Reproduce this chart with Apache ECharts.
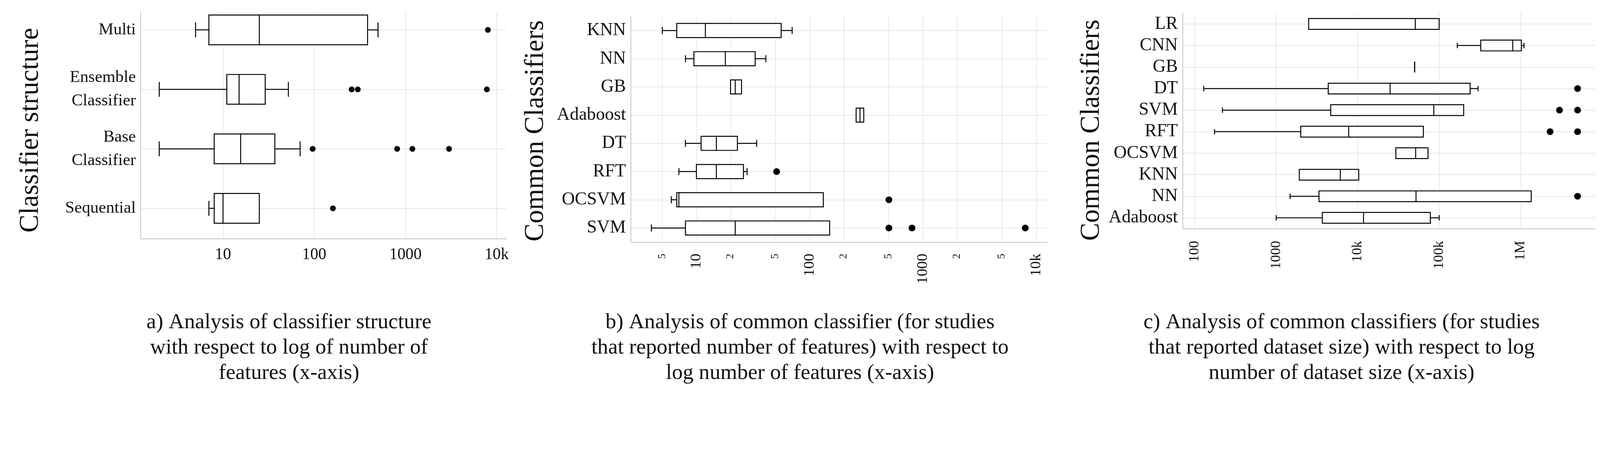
<!DOCTYPE html>
<html>
<head>
<meta charset="utf-8">
<script src="https://cdn.jsdelivr.net/npm/echarts@6.0.0/dist/echarts.min.js"></script>
<style>
  html, body { margin: 0; padding: 0; background: #fff; overflow: hidden; }
</style>
</head>
<body>
<div id="chart"></div>
<script>
const SERIF = '"Liberation Serif", "Times New Roman", serif';

// box stats are [min, q1, median, q3, max]

// a) classifier structure vs number of features
const structNames = ['Multi', 'Ensemble\nClassifier', 'Base\nClassifier', 'Sequential'];
const structBoxes = [
  [5, 7, 25, 384, 500],
  [2, 11, 15, 29, 52],
  [2, 8, 15.6, 37, 70],
  [7, 8, 10, 25, 25],
];
const structOutliers = [[8000], [257, 300, 7800], [96, 810, 1190, 3000], [160]];
const structTicks = [10, 100, 1000, 10000];

// b) common classifiers vs number of features
const featNames = ['KNN', 'NN', 'GB', 'Adaboost', 'DT', 'RFT', 'OCSVM', 'SVM'];
const featBoxes = [
  [5, 6.7, 12, 56, 70],
  [8, 9.5, 18, 33, 41],
  [20, 20, 22, 25, 25],
  [257, 257, 278, 300, 300],
  [8, 11, 15, 23, 34],
  [7, 10, 15, 26, 28],
  [6, 6.7, 7, 132, 132],
  [4, 8, 22, 150, 150],
];
const featOutliers = [[], [], [], [], [], [51], [500], [500, 800, 8000]];
const featTicks = [5, 10, 20, 50, 100, 200, 500, 1000, 2000, 5000, 10000];

// c) common classifiers vs dataset size
const sizeNames = ['LR', 'CNN', 'GB', 'DT', 'SVM', 'RFT', 'OCSVM', 'KNN', 'NN', 'Adaboost'];
const sizeBoxes = [
  [2500, 2500, 51000, 100000, 100000],
  [167000, 324000, 800000, 1020000, 1100000],
  [50000, 50000, 50000, 50000, 50000],
  [129, 4350, 25000, 240000, 300000],
  [219, 4670, 86000, 200000, 200000],
  [175, 2000, 7760, 64000, 64000],
  [29400, 29400, 51500, 73000, 73000],
  [1920, 1920, 6120, 10300, 10300],
  [1480, 3350, 52000, 1350000, 1350000],
  [1000, 3680, 11800, 78000, 100000],
];
const sizeOutliers = [[], [], [], [5000000], [3000000, 5000000], [2300000, 5000000], [], [], [5000000], []];
const sizeTicks = [100, 1000, 10000, 100000, 1000000];

const captions = [
  'a) Analysis of classifier structure\nwith respect to log of number of\nfeatures (x-axis)',
  'b) Analysis of common classifier (for studies\nthat reported number of features) with respect to\nlog number of features (x-axis)',
  'c) Analysis of common classifiers (for studies\nthat reported dataset size) with respect to log\nnumber of dataset size (x-axis)',
];

// layout is worked out for a 4972 x 1212 figure, then scaled down
// uniformly if the window is narrower
const W = 4972;
const H = 1212;
const k = Math.min(1, window.innerWidth / W);
const px = (v) => Math.round(v * k * 100) / 100;

const el = document.getElementById('chart');
el.style.width = px(W) + 'px';
el.style.height = px(H) + 'px';

const GRID_LINE = { color: '#dedede', width: px(1.6) };
const AXIS_LINE = { color: '#cdcdcd', width: px(3) };
const INK = '#111';

const tickText = (v) => {
  if (v >= 1e6) return v / 1e6 + 'M';
  if (v >= 1e4) return v / 1e3 + 'k';
  return String(v);
};
const isDecade = (v) => {
  const p = Math.log10(v);
  return Math.abs(p - Math.round(p)) < 1e-6;
};

const renderBox = (params, api) => {
  const row = api.value(0);
  const at = (v) => api.coord([v, row]);
  const band = api.size([0, 1], [10, row])[1];
  const half = band * 0.25;
  const cap = band * 0.125;
  const [xLo, y] = at(api.value(1));
  const xQ1 = at(api.value(2))[0];
  const xMed = at(api.value(3))[0];
  const xQ3 = at(api.value(4))[0];
  const xHi = at(api.value(5))[0];
  const line = { stroke: '#000', lineWidth: px(3) };
  const kids = [
    {
      type: 'rect',
      shape: { x: xQ1, y: y - half, width: xQ3 - xQ1, height: half * 2 },
      style: { fill: '#fff', stroke: '#000', lineWidth: px(3) },
    },
    { type: 'line', shape: { x1: xMed, y1: y - half, x2: xMed, y2: y + half }, style: line },
  ];
  if (xQ1 - xLo > 0.5) {
    kids.push({ type: 'line', shape: { x1: xLo, y1: y, x2: xQ1, y2: y }, style: line });
    kids.push({ type: 'line', shape: { x1: xLo, y1: y - cap, x2: xLo, y2: y + cap }, style: line });
  }
  if (xHi - xQ3 > 0.5) {
    kids.push({ type: 'line', shape: { x1: xQ3, y1: y, x2: xHi, y2: y }, style: line });
    kids.push({ type: 'line', shape: { x1: xHi, y1: y - cap, x2: xHi, y2: y + cap }, style: line });
  }
  return { type: 'group', children: kids };
};

// opt: nameGap, nameShift (moves the rotated title down), fontSize, lineHeight
const rowAxis = (idx, names, min, max, title, opt) => {
  const rows = names.map((n, i) => i);
  return {
    gridIndex: idx,
    type: 'value',
    inverse: true,
    min,
    max,
    axisLine: { show: true, onZero: false, lineStyle: AXIS_LINE },
    axisTick: { show: false, customValues: rows },
    axisLabel: {
      customValues: rows,
      showMinLabel: true,
      showMaxLabel: true,
      formatter: (v) => names[Math.round(v)],
      fontFamily: SERIF,
      fontSize: px(opt.fontSize),
      lineHeight: opt.lineHeight ? px(opt.lineHeight) : undefined,
      color: INK,
      margin: px(15),
    },
    splitLine: { show: true, lineStyle: GRID_LINE },
    name: title,
    nameLocation: 'middle',
    nameRotate: 90,
    nameGap: px(opt.nameGap),
    nameTextStyle: {
      fontFamily: SERIF,
      fontSize: px(84),
      color: INK,
      padding: [0, px(opt.nameShift * 2), 0, 0],
    },
  };
};

const logAxis = (idx, min, max, ticks, label) => ({
  gridIndex: idx,
  type: 'log',
  logBase: 10,
  min,
  max,
  axisLine: { show: true, onZero: false, lineStyle: AXIS_LINE },
  axisTick: { show: false, customValues: ticks },
  axisLabel: Object.assign({ customValues: ticks, fontFamily: SERIF, color: INK }, label),
  splitLine: { show: true, lineStyle: GRID_LINE },
});

const boxSeries = (idx, boxes) => ({
  type: 'custom',
  xAxisIndex: idx,
  yAxisIndex: idx,
  renderItem: renderBox,
  encode: { x: [1, 2, 3, 4, 5], y: 0 },
  data: boxes.map((b, i) => [i].concat(b)),
  z: 3,
});

const dotSeries = (idx, outliers, size) => ({
  type: 'scatter',
  xAxisIndex: idx,
  yAxisIndex: idx,
  symbolSize: px(size),
  itemStyle: { color: '#000', opacity: 1 },
  data: outliers.flatMap((arr, i) => arr.map((v) => [v, i])),
  z: 4,
});

const chart = echarts.init(el);

chart.setOption({
  animation: false,
  backgroundColor: '#fff',
  title: captions.map((text, i) => ({
    text,
    left: px([892, 2480, 4163][i]),
    top: px(958),
    textAlign: 'center',
    textStyle: {
      fontFamily: SERIF,
      fontSize: px(67),
      fontWeight: 'normal',
      lineHeight: px(79),
      color: INK,
    },
  })),
  grid: [
    { left: px(437), top: px(38), width: px(1136), height: px(704) },
    { left: px(1960), top: px(51), width: px(1293), height: px(702) },
    { left: px(3675), top: px(41), width: px(1281), height: px(670) },
  ],
  xAxis: [
    logAxis(0, 1.25, 12700, structTicks, {
      formatter: tickText,
      fontSize: px(50),
      margin: px(26),
    }),
    logAxis(1, 2.63, 12400, featTicks, {
      rotate: 90,
      margin: px(36),
      formatter: (v) => (isDecade(v) ? '{M|' + tickText(v) + '}' : '{m|' + String(v).charAt(0) + '}'),
      rich: {
        M: { fontFamily: SERIF, fontSize: px(47), color: INK },
        m: { fontFamily: SERIF, fontSize: px(32), color: INK },
      },
    }),
    logAxis(2, 71, 8150000, sizeTicks, {
      formatter: tickText,
      rotate: 90,
      fontSize: px(44),
      margin: px(38),
    }),
  ],
  yAxis: [
    rowAxis(0, structNames, -0.297, 3.508, 'Classifier structure',
      { nameGap: 300, nameShift: 15, fontSize: 52, lineHeight: 73 }),
    rowAxis(1, featNames, -0.5, featNames.length - 0.5, 'Common Classifiers',
      { nameGap: 253, nameShift: 5, fontSize: 56 }),
    rowAxis(2, sizeNames, -0.5, sizeNames.length - 0.5, 'Common Classifiers',
      { nameGap: 240, nameShift: 29, fontSize: 56 }),
  ],
  series: [
    boxSeries(0, structBoxes),
    dotSeries(0, structOutliers, 18),
    boxSeries(1, featBoxes),
    dotSeries(1, featOutliers, 21),
    boxSeries(2, sizeBoxes),
    dotSeries(2, sizeOutliers, 21),
  ],
});
</script>
</body>
</html>
